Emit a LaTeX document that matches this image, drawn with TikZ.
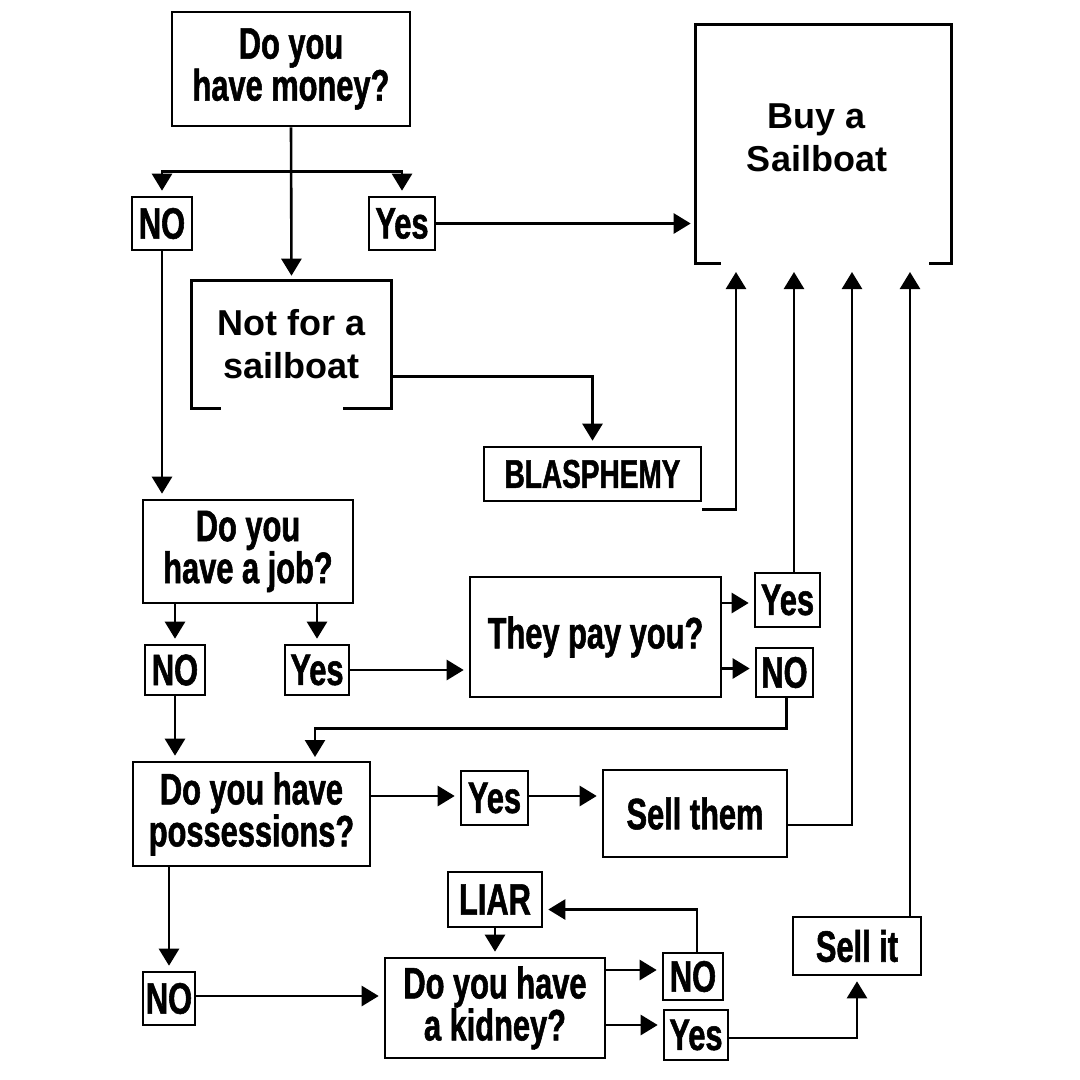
\documentclass[tikz,border=0pt]{standalone}
\usepackage{fontspec}
\setmainfont{Liberation Sans}
\newfontfamily\condf[FakeStretch=0.7,FakeBold=1.2]{Liberation Sans}
\usetikzlibrary{arrows.meta}
\begin{document}
\begin{tikzpicture}[x=1pt,y=-1pt,
  line width=2.6pt,
  box/.style={draw, line width=2.6pt, inner sep=0pt, align=center,
    font=\condf\bfseries\fontsize{44}{42}\selectfont},
  sbox/.style={box, font=\condf\bfseries\fontsize{40}{40}\selectfont},
  hbox/.style={inner sep=0pt, align=center,
    font=\bfseries\fontsize{36}{43}\selectfont},
  arr/.style={-{Triangle[length=17pt,width=20pt]}, shorten >=5pt},
  arrn/.style={-{Triangle[length=17pt,width=20pt]}},
  brd/.style={line width=2.6pt}
]
\fill[white] (0,0) rectangle (1080,1080);
\useasboundingbox (0,0) rectangle (1080,1080);

% nodes
\node[box, minimum width=238pt, minimum height=114pt] (money) at (291,69) {Do you\\have money?};
\node[box, minimum width=60pt, minimum height=53pt] (no1) at (162,223.5) {NO};
\node[box, minimum width=66pt, minimum height=53pt] (yes1) at (402,223.5) {Yes};
\node[inner sep=0pt, minimum width=253pt, minimum height=236pt] (buy) at (823.5,144) {};
\node[hbox] (buytxt) at (817,138) {Buy a\\Sailboat};
\node[hbox, minimum width=197pt, minimum height=125pt] (notfor) at (291.5,344.5) {Not for a\\sailboat};
\node[sbox, minimum width=217pt, minimum height=54pt] (blas) at (592.5,474) {BLASPHEMY};
\node[box, minimum width=210pt, minimum height=103pt] (job) at (248,551.5) {Do you\\have a job?};
\node[box, minimum width=60pt, minimum height=50pt] (no2) at (175,670) {NO};
\node[box, minimum width=64pt, minimum height=50pt] (yes2) at (317,670) {Yes};
\node[box, minimum width=251pt, minimum height=120pt] (pay) at (595.5,637) {They pay you?};
\node[box, minimum width=65pt, minimum height=54pt] (yes3) at (787.5,600) {Yes};
\node[box, minimum width=57pt, minimum height=49pt] (no3) at (784.5,672.5) {NO};
\node[box, minimum width=237pt, minimum height=104pt] (poss) at (251.5,814) {Do you have\\possessions?};
\node[box, minimum width=67pt, minimum height=54pt] (yes4) at (494.5,798) {Yes};
\node[box, minimum width=184pt, minimum height=87pt] (sell) at (695,813.5) {Sell them};
\node[box, minimum width=94pt, minimum height=55pt] (liar) at (495,899.5) {LIAR};
\node[box, minimum width=52pt, minimum height=53pt] (no5) at (169,998.5) {NO};
\node[box, minimum width=220pt, minimum height=100pt] (kid) at (495,1008) {Do you have\\a kidney?};
\node[box, minimum width=60pt, minimum height=47pt] (no6) at (693,976.5) {NO};
\node[box, minimum width=64pt, minimum height=50pt] (yes6) at (696,1035) {Yes};
\node[box, minimum width=128pt, minimum height=58pt] (sellit) at (857,946) {Sell it};

% partial borders
\draw[brd] ([xshift=25pt]buy.south west) -- (buy.south west) -- (buy.north west)
  -- (buy.north east) -- (buy.south east) -- ([xshift=-22pt]buy.south east);
\draw[brd] ([xshift=29pt]notfor.south west) -- (notfor.south west) -- (notfor.north west)
  -- (notfor.north east) -- (notfor.south east) -- ([xshift=-48pt]notfor.south east);

% arrow targets under Buy box
\coordinate (b1) at (736,272);
\coordinate (b2) at (794,272);
\coordinate (b3) at (852,272);
\coordinate (b4) at (910,272);
\coordinate (p2) at (315,762);

% connectors
\draw[arr] (money.south) -- (notfor.north);
\draw[arr] (money.south) ++(0,44) -| (no1.north);
\draw[arr] (money.south) ++(0,44) -| (yes1.north);
\draw[arr] (yes1.east) -- (yes1.east -| buy.west);
\draw[arr] (notfor.south east) ++(0,-32) -| (blas.north);
\draw[arrn] (blas.south east) ++(0,7) -| (b1);
\draw[arr] (no1.south) -- (no1.south |- job.north);
\draw[arr] (no2.north |- job.south) -- (no2.north);
\draw[arr] (yes2.north |- job.south) -- (yes2.north);
\draw[arr] (yes2.east) -- (yes2.east -| pay.west);
\draw[arr] ([yshift=-3pt]pay.east |- yes3.west) -- ([yshift=-3pt]yes3.west);
\draw[arr] ([yshift=4pt]pay.east |- no3.west) -- ([yshift=4pt]no3.west);
\draw[arrn] (b2 |- yes3.north) -- (b2);
\draw[arr] ([xshift=2pt]no3.south) -- ++(0,30) -| (p2);
\draw[arr] (no2.south) -- (no2.south |- poss.north);
\draw[arr] ([yshift=18pt]poss.east) -- ([yshift=18pt]poss.east -| yes4.west);
\draw[arr] ([yshift=2pt]yes4.east) -- ([yshift=2pt]yes4.east -| sell.west);
\draw[arrn] ([yshift=-11.5pt]sell.east) -| (b3);
\draw[arr] (no5.north |- poss.south) -- (no5.north);
\draw[arr] ([yshift=2.5pt]no5.east) -- ([yshift=2.5pt]no5.east -| kid.west);
\draw[arr] (liar.south) -- (kid.north);
\draw[arr] ([yshift=38pt]kid.east) -- ([yshift=38pt]kid.east -| no6.west);
\draw[arr] ([yshift=-17pt]kid.east) -- ([yshift=-17pt]kid.east -| yes6.west);
\draw[arr] ([xshift=4pt]no6.north) |- ([yshift=-10pt]liar.east);
\draw[arr] ([yshift=-3pt]yes6.east) -| (sellit.south);
\draw[arrn] (b4 |- sellit.north) -- (b4);
\end{tikzpicture}
\end{document}
